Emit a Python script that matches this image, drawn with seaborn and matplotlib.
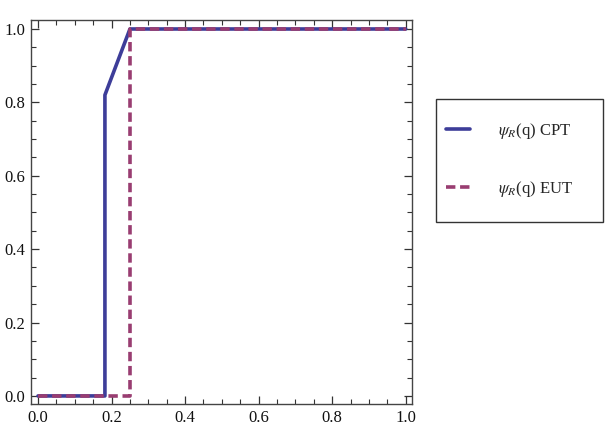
import matplotlib
matplotlib.use("Agg")
import matplotlib.pyplot as plt
import seaborn as sns
import pandas as pd
from matplotlib.ticker import MultipleLocator
from matplotlib.patches import Rectangle

cpt_q = [0.0, 0.182, 0.182, 0.25, 1.0]
cpt_psi = [0.0, 0.0, 0.82, 1.0, 1.0]
eut_q = [0.0, 0.25, 0.25, 1.0]
eut_psi = [0.0, 0.0, 1.0, 1.0]
labels = [r"$\psi_R$(q) CPT", r"$\psi_R$(q) EUT"]
x_ticks = [0.0, 0.2, 0.4, 0.6, 0.8, 1.0]
y_ticks = [0.0, 0.2, 0.4, 0.6, 0.8, 1.0]

sns.set_theme(style="ticks")
plt.rcParams["font.family"] = ["Liberation Serif", "DejaVu Serif"]
plt.rcParams["mathtext.fontset"] = "stix"

fig = plt.figure(figsize=(6.08, 4.38), dpi=100)
ax = fig.add_axes([31/608, 1-404/438, (412-31)/608, (404-20)/438])

df_cpt = pd.DataFrame({"q": cpt_q, "psi": cpt_psi})
df_eut = pd.DataFrame({"q": eut_q, "psi": eut_psi})
sns.lineplot(data=df_cpt, x="q", y="psi", sort=False, estimator=None, ax=ax,
             color="#3d3d99", lw=2.6, label=labels[0])
sns.lineplot(data=df_eut, x="q", y="psi", sort=False, estimator=None, ax=ax,
             color="#993d71", lw=2.6, label=labels[1])
ax.lines[1].set_dashes([2.6, 1.3])

ax.set_xlim(-0.019, 1.017)
ax.set_ylim(-0.022, 1.0245)
ax.set_xticks(x_ticks)
ax.set_yticks(y_ticks)
ax.set_xticklabels([f"{v:.1f}" for v in x_ticks])
ax.set_yticklabels([f"{v:.1f}" for v in y_ticks])
ax.xaxis.set_minor_locator(MultipleLocator(0.05))
ax.yaxis.set_minor_locator(MultipleLocator(0.05))
ax.tick_params(which="both", direction="in", top=True, right=True, color="#333333")
ax.tick_params(which="major", length=6, width=0.9, labelsize=12, pad=4,
               labelcolor="#111111")
ax.tick_params(which="minor", length=3.5, width=0.8)
ax.set_xlabel("")
ax.set_ylabel("")
for s in ax.spines.values():
    s.set_color("#444444")
    s.set_linewidth(1.0)

ax.legend_.remove()
h, l = ax.get_legend_handles_labels()
fig.patches.append(Rectangle((436/608, 1-222/438), 167/608, 123/438,
                             transform=fig.transFigure, fill=False,
                             edgecolor="#333333", lw=1.0))
leg = fig.legend(h, l, loc="upper left", bbox_to_anchor=(446/608, 1-121/438),
                 frameon=False, fontsize=12, borderpad=0, labelspacing=2.25,
                 handlelength=1.45, handletextpad=1.65, borderaxespad=0)

fig.savefig("out.png", dpi=100)
